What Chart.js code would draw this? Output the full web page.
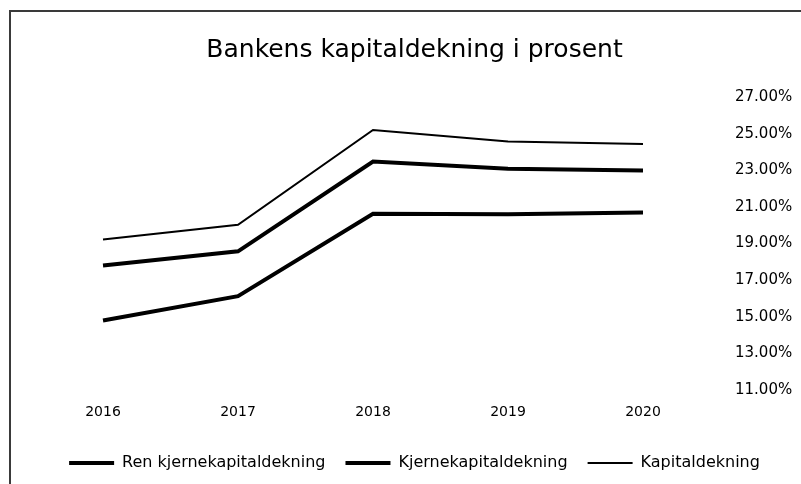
<!DOCTYPE html>
<html>
<head>
<meta charset="utf-8">
<script src="https://cdn.jsdelivr.net/npm/chart.js@4/dist/chart.umd.min.js"></script>
<style>
html,body{margin:0;padding:0;background:#fff;}
#wrap{position:absolute;left:0;top:0;width:801px;height:484px;}
</style>
</head>
<body>
<div id="wrap"><canvas id="c" width="801" height="484"></canvas></div>
<script>
const categories = ["2016", "2017", "2018", "2019", "2020"];
const renKjerne = [14.8, 16.13, 20.63, 20.6, 20.7];
const kjerne = [17.8, 18.58, 23.48, 23.08, 22.99];
const kapital = [19.22, 20.03, 25.2, 24.57, 24.44];
const seriesNames = ["Ren kjernekapitaldekning", "Kjernekapitaldekning", "Kapitaldekning"];
const yMin = 11, yMax = 27, yStep = 2;

const frame = {
  id: 'frame',
  beforeDraw(chart) {
    const ctx = chart.ctx;
    ctx.save();
    ctx.fillStyle = '#ffffff';
    ctx.fillRect(0, 0, chart.width, chart.height);
    ctx.fillStyle = '#3a3a3a';
    ctx.fillRect(9, 10, 2, chart.height - 10);
    ctx.fillRect(9, 10, chart.width - 9, 2);
    ctx.restore();
  }
};

const font = "'DejaVu Sans', sans-serif";

new Chart(document.getElementById('c'), {
  type: 'line',
  data: {
    labels: categories,
    datasets: [
      { label: seriesNames[0], data: renKjerne, borderColor: '#000', backgroundColor: '#000', borderWidth: 4, yAxisID: 'y' },
      { label: seriesNames[1], data: kjerne, borderColor: '#000', backgroundColor: '#000', borderWidth: 4, yAxisID: 'y' },
      { label: seriesNames[2], data: kapital, borderColor: '#000', backgroundColor: '#000', borderWidth: 2, yAxisID: 'y' }
    ]
  },
  options: {
    responsive: false,
    animation: false,
    devicePixelRatio: 1,
    layout: { padding: { left: 28, right: 0, top: 0, bottom: 3 } },
    elements: { point: { radius: 0 }, line: { tension: 0, borderCapStyle: 'butt' } },
    plugins: {
      title: {
        display: true,
        text: 'Bankens kapitaldekning i prosent',
        color: '#000',
        font: { family: font, size: 25, weight: 'normal' },
        padding: { top: 35, bottom: 32 }
      },
      legend: {
        position: 'bottom',
        labels: {
          usePointStyle: true,
          pointStyle: 'line',
          pointStyleWidth: 45,
          color: '#000',
          padding: 20,
          font: { family: font, size: 16 }
        }
      },
      tooltip: { enabled: false }
    },
    scales: {
      x: {
        offset: false,
        grid: { display: false, drawTicks: false },
        border: { display: false },
        ticks: { color: '#000', padding: 14, font: { family: font, size: 14 }, maxRotation: 0 }
      },
      yLeft: {
        position: 'left',
        display: true,
        grid: { display: false, drawTicks: false },
        border: { display: false },
        ticks: { display: false },
        afterFit(s) { s.width = 75; s.paddingTop = 0; s.paddingBottom = 0; }
      },
      y: {
        position: 'right',
        min: yMin, max: yMax,
        grid: { display: false, drawTicks: false },
        border: { display: false },
        ticks: {
          stepSize: yStep,
          color: '#000',
          padding: 92,
          font: { family: font, size: 15 },
          callback: v => v.toFixed(2) + '%'
        },
        afterFit(s) { s.width = 158; s.paddingTop = 0; s.paddingBottom = 0; }
      }
    }
  },
  plugins: [frame]
});
</script>
</body>
</html>
